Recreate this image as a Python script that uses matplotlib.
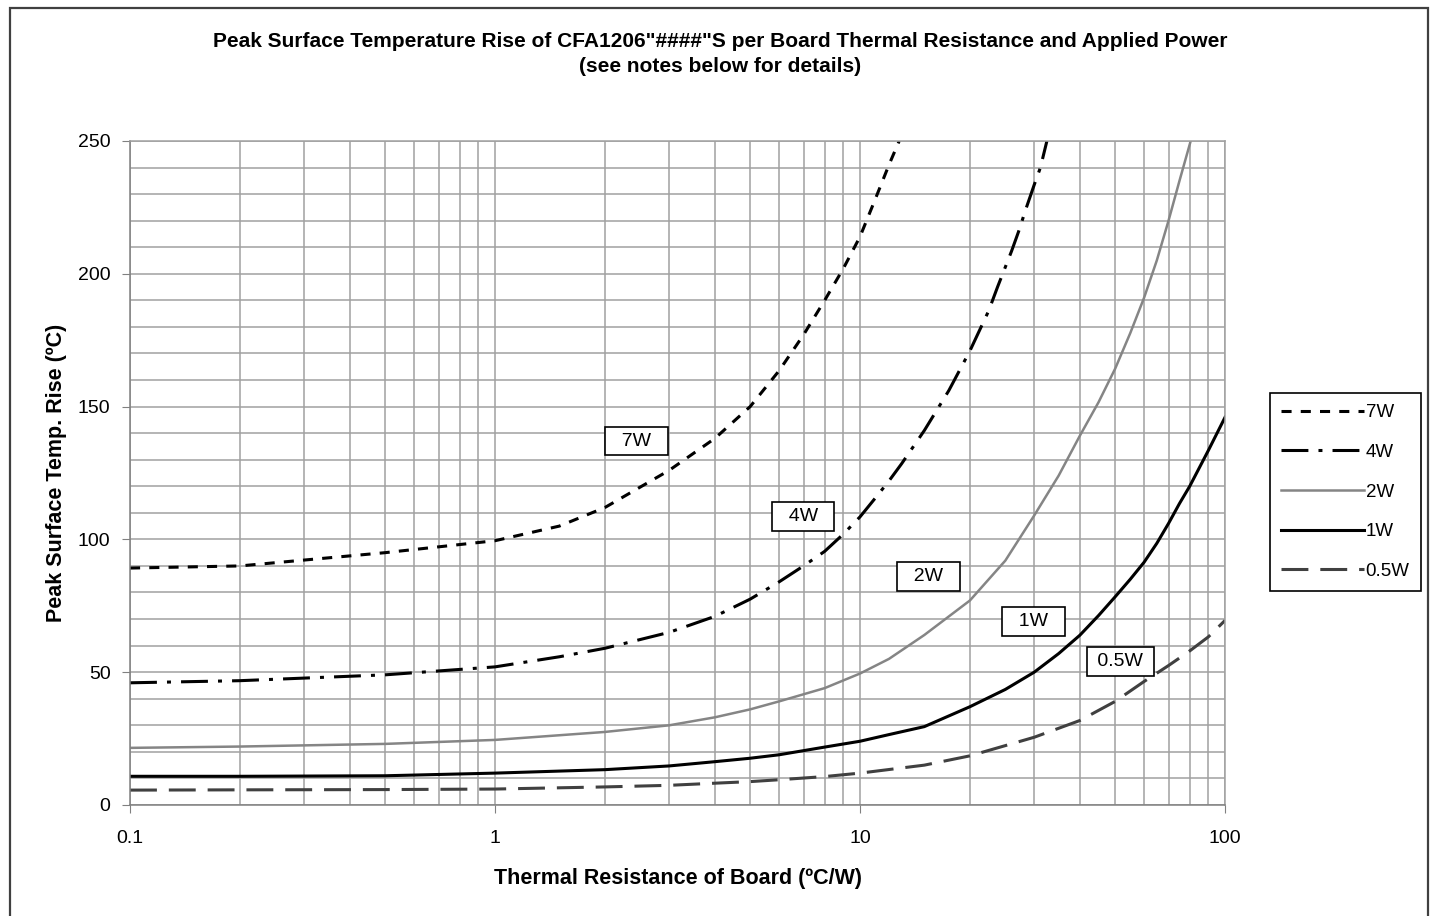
import matplotlib
matplotlib.use("Agg")
import matplotlib.pyplot as plt
from matplotlib.ticker import MultipleLocator, LogLocator, FixedLocator, NullFormatter
from matplotlib.patches import Rectangle

plt.rcParams['font.family'] = ['Liberation Sans', 'DejaVu Sans']

# curve data (x = board thermal resistance, y = temp rise)
x_7w = [0.1, 0.2, 0.5, 1, 1.5, 2, 3, 4, 5, 6, 7, 8, 9, 10, 11, 12, 12.8]
y_7w = [89.2, 90, 95, 99.5, 105, 112, 126, 138, 150, 163.5, 177, 190, 202, 214, 228, 241, 250]

x_4w = [0.1, 0.2, 0.5, 1, 1.5, 2, 3, 4, 5, 6, 7, 8, 9, 10, 11, 12, 13, 15, 17.5, 20,
        22.5, 23.8, 26, 27.2, 28.5, 30, 31.2, 32.5]
y_4w = [46, 46.8, 49, 52, 55.8, 59, 65, 71, 77.5, 84, 90, 95.5, 102, 108.5, 115.5, 122, 128.5,
        141, 156, 171, 186, 195, 208.5, 216, 224.6, 233.5, 240, 250]

x_2w = [0.1, 0.2, 0.5, 1, 2, 3, 4, 5, 6, 8, 10, 12, 15, 20, 25, 30, 35, 40, 45, 50, 55,
        60, 65, 70, 75, 80.5]
y_2w = [21.5, 22, 23, 24.5, 27.5, 30, 33, 36, 39, 44, 49.5, 55, 64, 77, 92, 109, 124,
        139, 151.6, 164.3, 177.7, 191, 205, 220, 235, 250]

x_1w = [0.1, 0.2, 0.5, 1, 2, 3, 4, 5, 6, 8, 10, 12, 15, 20, 25, 30, 35, 40, 45, 50, 55,
        60, 65, 70, 75, 80, 90, 100]
y_1w = [10.8, 10.8, 11, 12, 13.3, 14.7, 16.3, 17.6, 18.9, 21.8, 24, 26.5, 29.5, 37, 43.5,
        50, 57, 63.9, 71.3, 78.4, 85, 91.4, 98.5, 106, 113.5, 120, 133.5, 146]

x_05w = [0.1, 0.2, 0.5, 1, 2, 3, 4, 5, 6, 8, 10, 15, 20, 30, 40, 50, 60, 70, 80, 90, 100]
y_05w = [5.6, 5.7, 5.8, 6, 6.8, 7.4, 8.2, 8.8, 9.5, 10.7, 12, 15, 18.5, 25.5, 31.8, 39,
         46.5, 52.5, 58, 63.3, 69.5]

series_names = ['7W', '4W', '2W', '1W', '0.5W']
label_x = [2.44, 6.98, 15.4, 29.9, 51.7]
label_y = [137, 108.5, 86, 69, 54]

fig = plt.figure(figsize=(14.32, 9.16), dpi=100)
ax = fig.add_axes([0.0908, 0.1212, 0.7647, 0.7249])

ax.plot(x_7w, y_7w, color='black', lw=2.2, linestyle=(0, (3.3, 3.0)), label='7W')
ax.plot(x_4w, y_4w, color='black', lw=2.2, linestyle=(0, (8.8, 3.3, 1.3, 3.3)), label='4W')
ax.plot(x_2w, y_2w, color='#858585', lw=1.8, label='2W')
ax.plot(x_1w, y_1w, color='black', lw=2.2, label='1W')
ax.plot(x_05w, y_05w, color='#404040', lw=2.2, linestyle=(0, (8.8, 3.9)), label='0.5W')

ax.set_xscale('log')
ax.set_xlim(0.1, 100)
ax.set_ylim(0, 250)
ax.xaxis.set_major_locator(FixedLocator([0.1, 1, 10, 100]))
ax.set_xticklabels(['0.1', '1', '10', '100'])
ax.xaxis.set_minor_locator(LogLocator(base=10, subs=range(2, 10)))
ax.xaxis.set_minor_formatter(NullFormatter())
ax.yaxis.set_major_locator(MultipleLocator(50))
ax.yaxis.set_minor_locator(MultipleLocator(10))

ax.grid(which='both', color='#a0a0a0', lw=1.1)
ax.set_axisbelow(True)
for s in ax.spines.values():
    s.set_color('#a0a0a0')
    s.set_linewidth(1.1)
ax.spines['left'].set_color('#808080')
ax.spines['bottom'].set_color('#808080')
ax.tick_params(which='major', direction='out', length=6, color='#808080',
               labelsize=14, pad=12)
ax.tick_params(axis='y', which='major', pad=8)
ax.tick_params(which='minor', length=0)

ax.set_xlabel('Thermal Resistance of Board (\u00baC/W)', fontsize=15.5,
              fontweight='bold', labelpad=15)
ax.set_ylabel('Peak Surface Temp. Rise (\u00baC)', fontsize=15.5,
              fontweight='bold', labelpad=8)

fig.text(0.503, 0.955,
         'Peak Surface Temperature Rise of CFA1206"####"S per Board Thermal Resistance and Applied Power',
         ha='center', va='center', fontsize=15, fontweight='bold')
fig.text(0.503, 0.927, '(see notes below for details)',
         ha='center', va='center', fontsize=15, fontweight='bold')

for name, lx, ly in zip(series_names, label_x, label_y):
    txt = '  ' + name + '  ' if len(name) < 3 else ' ' + name + ' '
    ax.text(lx, ly, txt, ha='center', va='center', fontsize=14,
            bbox=dict(boxstyle='square,pad=0.3', fc='white', ec='black', lw=1.2))

leg = ax.legend(loc='upper left', bbox_to_anchor=(1.041, 0.6205), borderaxespad=0,
                fontsize=13.5, handlelength=4.4, handletextpad=0.1,
                labelspacing=1.2, fancybox=False, framealpha=1,
                edgecolor='black', borderpad=0.6)
leg.get_frame().set_linewidth(1.2)

fig.patches.append(Rectangle((10 / 1432, -0.05), (1428 - 10) / 1432, 1 - 8 / 916 + 0.05,
                             transform=fig.transFigure, fill=False,
                             ec='#404040', lw=1.6, clip_on=False))

fig.savefig('out.png', dpi=100)
